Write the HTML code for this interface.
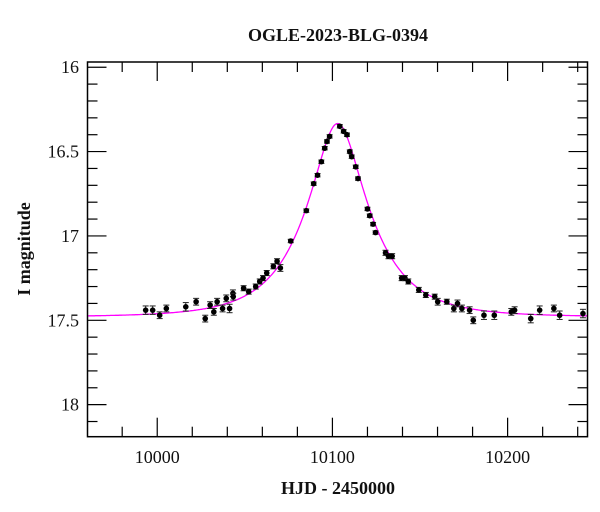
<!DOCTYPE html>
<html><head><meta charset="utf-8">
<style>
body{margin:0;background:#fff;}
svg{display:block;font-family:"Liberation Serif",serif;}
</style></head>
<body>
<svg id="chart" width="600" height="512" viewBox="0 0 600 512" xmlns="http://www.w3.org/2000/svg">
<text x="338" y="41" text-anchor="middle" font-size="18" font-weight="bold" fill="#111">OGLE-2023-BLG-0394</text>
<text x="338" y="494" text-anchor="middle" font-size="18" font-weight="bold" fill="#111">HJD - 2450000</text>
<text transform="translate(30,249) rotate(-90)" text-anchor="middle" font-size="18" font-weight="bold" fill="#111">I magnitude</text>
<g id="axes"></g>
<path id="model" fill="none" stroke="#ff00ff" stroke-width="1.3"/>
<g id="points"></g>
<rect x="87.5" y="62" width="500" height="374.7" fill="none" stroke="#000" stroke-width="1.5"/>
</svg>
<script>
const obsTime = [9993.4,9997.4,10001.4,10005.2,10016.3,10022.2,10027.4,10030.2,10032.3,10034.2,10037.3,10039.4,10041.3,10043.2,10043.4,10049.3,10052.2,10056.2,10058.5,10060.4,10062.5,10066.3,10068.4,10070.3,10076.2,10085.1,10089.3,10091.5,10093.7,10095.6,10096.9,10098.4,10104.2,10106.4,10108.3,10109.9,10111.0,10113.3,10114.6,10120.0,10121.3,10123.2,10124.6,10130.3,10132.0,10134.1,10139.5,10141.4,10143.3,10149.3,10153.3,10158.4,10160.1,10165.3,10169.3,10171.4,10173.9,10178.3,10180.4,10186.5,10192.4,10202.1,10204.0,10213.2,10218.3,10226.4,10229.7,10243.0];
const obsMag = [17.44,17.44,17.47,17.43,17.42,17.39,17.49,17.41,17.45,17.39,17.43,17.37,17.43,17.34,17.36,17.31,17.33,17.30,17.27,17.25,17.22,17.18,17.15,17.19,17.03,16.85,16.69,16.64,16.56,16.48,16.44,16.41,16.35,16.38,16.40,16.50,16.53,16.59,16.66,16.84,16.88,16.93,16.98,17.10,17.12,17.12,17.25,17.25,17.27,17.32,17.35,17.36,17.39,17.39,17.43,17.40,17.43,17.44,17.50,17.47,17.47,17.45,17.44,17.49,17.44,17.43,17.47,17.46];
const obsErr = [0.025,0.025,0.02,0.02,0.025,0.02,0.02,0.02,0.02,0.02,0.02,0.02,0.025,0.02,0.02,0.015,0.015,0.015,0.015,0.015,0.015,0.015,0.015,0.02,0.01,0.01,0.01,0.01,0.01,0.01,0.01,0.01,0.01,0.01,0.01,0.01,0.01,0.01,0.01,0.01,0.01,0.01,0.01,0.015,0.015,0.015,0.015,0.015,0.015,0.015,0.015,0.015,0.02,0.015,0.02,0.02,0.02,0.02,0.02,0.025,0.025,0.02,0.02,0.025,0.025,0.02,0.025,0.025];
const xTickLabels = [10000,10100,10200];
const yTickLabels = [16,16.5,17,17.5,18];
const modelParams = [10103, 0.365, 35, 17.48]; // t0, u0, tE, baseline mag

const NS="http://www.w3.org/2000/svg";
const L=87.5,R=587.5,T=62,B=436.7;
const xMin=9960.2,xMax=10245.6,yMin=15.969,yMax=18.19;
const X=v=>L+(v-xMin)/(xMax-xMin)*(R-L);
const Y=v=>T+(v-yMin)/(yMax-yMin)*(B-T);
function mk(tag,attrs,parent){const e=document.createElementNS(NS,tag);for(const k in attrs)e.setAttribute(k,attrs[k]);parent.appendChild(e);return e;}
const axes=document.getElementById('axes');
// x ticks
for(let v=9980;v<=10240;v+=20){
  const major=(v%100===0);const len=major?19:10;const x=X(v);
  const t1=mk('line',{x1:x,x2:x,y1:B,y2:B-len,stroke:'#000','stroke-width':1.2},axes);
  
  
  const t2=mk('line',{x1:x,x2:x,y1:T,y2:T+len,stroke:'#000','stroke-width':1.2},axes);
  
  
}
xTickLabels.forEach(v=>{
  const t=mk('text',{x:X(v),y:463,'text-anchor':'middle','font-size':18,fill:'#111'},axes);
  t.textContent=v;
  
  
});
for(let i=0;i<=22;i++){
  const v=16+i*0.1;if(v>yMax)break;
  const major=(i%5===0);const len=major?19:10;const y=Y(v);
  const t1=mk('line',{x1:L,x2:L+len,y1:y,y2:y,stroke:'#000','stroke-width':1.2},axes);
  
  
  const t2=mk('line',{x1:R,x2:R-len,y1:y,y2:y,stroke:'#000','stroke-width':1.2},axes);
  
  
}
yTickLabels.forEach(v=>{
  const t=mk('text',{x:79,y:Y(v)+6,'text-anchor':'end','font-size':18,fill:'#111'},axes);
  t.textContent=v;
  
  
});
// model
const [t0,u0,tE,m0]=modelParams;
let d='';
for(let px=L;px<=R;px+=1){
  const t=xMin+(px-L)/(R-L)*(xMax-xMin);
  const u=Math.sqrt(u0*u0+Math.pow((t-t0)/tE,2));
  const A=(u*u+2)/(u*Math.sqrt(u*u+4));
  const m=m0-2.5*Math.log10(A);
  d+=(d?'L':'M')+px.toFixed(1)+','+Y(m).toFixed(1);
}
document.getElementById('model').setAttribute('d',d);
// points
const pts=document.getElementById('points');
obsTime.forEach((t,i)=>{
  const g=mk('g',{},pts);
  
  
  const x=X(t),y1=Y(obsMag[i]-obsErr[i]),y2=Y(obsMag[i]+obsErr[i]);
  mk('line',{x1:x,x2:x,y1:y1,y2:y2,stroke:'#222','stroke-width':1},g);
  mk('line',{x1:x-3,x2:x+3,y1:y1,y2:y1,stroke:'#222','stroke-width':1},g);
  mk('line',{x1:x-3,x2:x+3,y1:y2,y2:y2,stroke:'#222','stroke-width':1},g);
  mk('circle',{cx:x,cy:Y(obsMag[i]),r:2.8,fill:'#000'},g);
});
</script>
</body></html>
